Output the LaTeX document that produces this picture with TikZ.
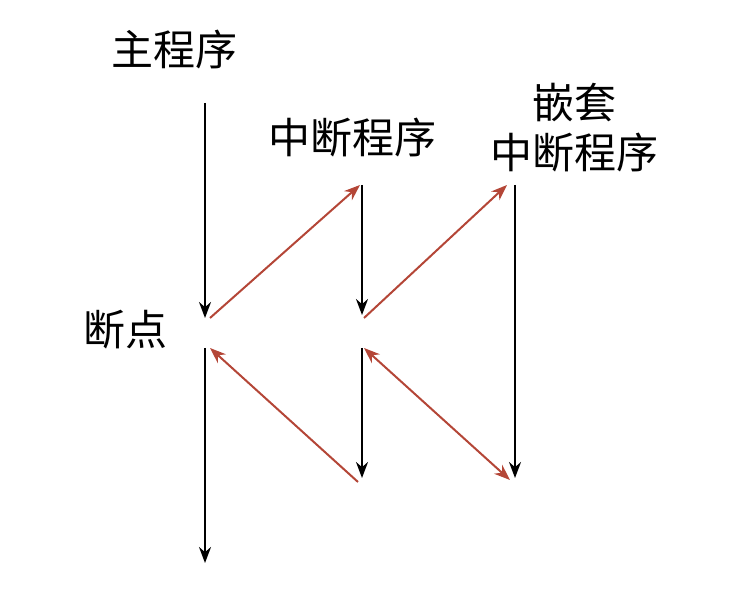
\documentclass[tikz,border=0pt]{standalone}
\usepackage{fontspec}
\setmainfont{Noto Sans CJK SC}
\usetikzlibrary{arrows.meta}
\definecolor{rd}{RGB}{180,70,55}
\begin{document}
\begin{tikzpicture}[x=1pt,y=-1pt,
  lbl/.style={font=\fontsize{42}{50}\selectfont,inner sep=0pt,align=center},
  blk/.style={draw=black,line width=2pt,-{Stealth[length=16pt,width=12pt]}},
  red/.style={draw=rd,line width=2pt,-{Stealth[length=16pt,width=12pt]}}]
\useasboundingbox (0,0) rectangle (744,609);
\node[lbl] (main) at (174,50) {主程序};
\node[lbl] (bp) at (125,330) {断点};
\node[lbl] (isr) at (352,138) {中断程序};
\node[lbl] (nest) at (574,128) {嵌套\\中断程序};
\coordinate (a1) at (205,103); \coordinate (a2) at (205,318);
\coordinate (a3) at (205,348); \coordinate (a4) at (205,563);
\coordinate (b1) at (362,185); \coordinate (b2) at (362,315);
\coordinate (b3) at (362,348); \coordinate (b4) at (362,478);
\coordinate (c1) at (515,185); \coordinate (c2) at (515,478);
\draw[blk] (a1) -- (a2);
\draw[blk] (a3) -- (a4);
\draw[blk] (b1) -- (b2);
\draw[blk] (b3) -- (b4);
\draw[blk] (c1) -- (c2);
\draw[red] (210,318) -- (360,185);
\draw[red] (364,318) -- (507,185);
\draw[red] (358,482) -- (210,348);
\draw[red,{Stealth[length=16pt,width=12pt]}-{Stealth[length=16pt,width=12pt]}] (364,348) -- (510,480);
\end{tikzpicture}
\end{document}
